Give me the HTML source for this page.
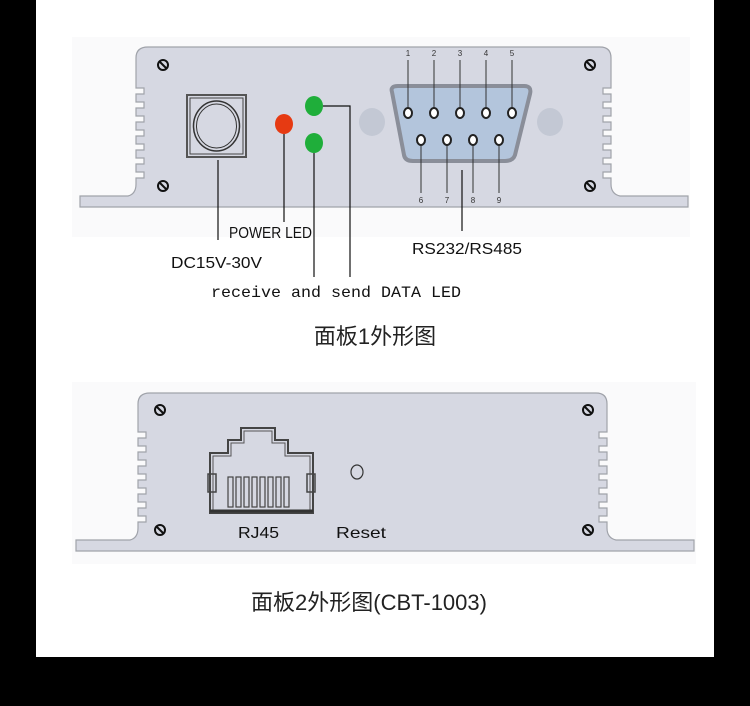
<!DOCTYPE html>
<html><head><meta charset="utf-8"><style>
html,body{margin:0;padding:0;background:#000;width:750px;height:706px;overflow:hidden}
svg{display:block}
</style></head><body>
<svg width="750" height="706" viewBox="0 0 750 706" xmlns="http://www.w3.org/2000/svg">
<rect x="0" y="0" width="750" height="706" fill="#000"/>
<rect x="36" y="0" width="678" height="657" fill="#fff"/>
<rect x="72" y="37" width="618" height="200" fill="#fafafb"/>
<rect x="72" y="382" width="624" height="182" fill="#fafafb"/>

<!-- Panel 1 body -->
<path d="M80,207 L80,196 L128,196 Q136,194 136,184 L136,178 L144,178 L144,172 L136,172 L136,164 L144,164 L144,158 L136,158 L136,150 L144,150 L144,144 L136,144 L136,136 L144,136 L144,130 L136,130 L136,122 L144,122 L144,116 L136,116 L136,108 L144,108 L144,102 L136,102 L136,94 L144,94 L144,88 L136,88 L136,58 Q136,47 148,47 L600,47 Q611,47 611,58 L611,88 L603,88 L603,94 L611,94 L611,102 L603,102 L603,108 L611,108 L611,116 L603,116 L603,122 L611,122 L611,130 L603,130 L603,136 L611,136 L611,144 L603,144 L603,150 L611,150 L611,158 L603,158 L603,164 L611,164 L611,172 L603,172 L603,178 L611,178 L611,184 Q611,194 620,196 L688,196 L688,207 Z" fill="#d6d8e2" stroke="#a0a3aa" stroke-width="1.2"/>
<g stroke="#111" stroke-width="2" fill="none">
<circle cx="163" cy="65" r="5"/><line x1="159" y1="61" x2="167" y2="69"/>
<circle cx="163" cy="186" r="5"/><line x1="159" y1="182" x2="167" y2="190"/>
<circle cx="590" cy="65" r="5"/><line x1="586" y1="61" x2="594" y2="69"/>
<circle cx="590" cy="186" r="5"/><line x1="586" y1="182" x2="594" y2="190"/>
</g>
<!-- power jack -->
<rect x="187" y="95" width="59" height="62" fill="none" stroke="#555" stroke-width="2"/>
<rect x="190" y="98" width="53" height="56" fill="none" stroke="#444" stroke-width="1"/>
<ellipse cx="216.5" cy="126" rx="23" ry="25" fill="none" stroke="#333" stroke-width="1.5"/>
<ellipse cx="216.5" cy="126" rx="20" ry="22" fill="none" stroke="#333" stroke-width="1"/>
<!-- LEDs -->
<ellipse cx="284" cy="124" rx="9" ry="10" fill="#e63a12"/>
<ellipse cx="314" cy="106" rx="9" ry="10" fill="#1fae3a"/>
<ellipse cx="314" cy="143" rx="9" ry="10" fill="#1fae3a"/>
<!-- DB9 -->
<ellipse cx="372" cy="122" rx="13" ry="14" fill="#c3c8d4"/>
<ellipse cx="550" cy="122" rx="13" ry="14" fill="#c3c8d4"/>
<path d="M392,92 Q390,86 398,86 L524,86 Q532,86 530,94 L515,155 Q513,161 505,161 L413,161 Q405,161 404,155 Z" fill="#b3c5dc" stroke="#8a8e99" stroke-width="4"/>
<g fill="#fff" stroke="#222" stroke-width="2">
<ellipse cx="408" cy="113" rx="4" ry="5"/><ellipse cx="434" cy="113" rx="4" ry="5"/><ellipse cx="460" cy="113" rx="4" ry="5"/><ellipse cx="486" cy="113" rx="4" ry="5"/><ellipse cx="512" cy="113" rx="4" ry="5"/>
<ellipse cx="421" cy="140" rx="4" ry="5"/><ellipse cx="447" cy="140" rx="4" ry="5"/><ellipse cx="473" cy="140" rx="4" ry="5"/><ellipse cx="499" cy="140" rx="4" ry="5"/>
</g>
<g stroke="#333" stroke-width="1">
<line x1="408" y1="60" x2="408" y2="107"/><line x1="434" y1="60" x2="434" y2="107"/><line x1="460" y1="60" x2="460" y2="107"/><line x1="486" y1="60" x2="486" y2="107"/><line x1="512" y1="60" x2="512" y2="107"/>
<line x1="421" y1="146" x2="421" y2="193"/><line x1="447" y1="146" x2="447" y2="193"/><line x1="473" y1="146" x2="473" y2="193"/><line x1="499" y1="146" x2="499" y2="193"/>
</g>
<g font-family="Liberation Sans, sans-serif" font-size="8" fill="#333" text-anchor="middle">
<text x="408" y="56">1</text><text x="434" y="56">2</text><text x="460" y="56">3</text><text x="486" y="56">4</text><text x="512" y="56">5</text>
<text x="421" y="203">6</text><text x="447" y="203">7</text><text x="473" y="203">8</text><text x="499" y="203">9</text>
</g>
<!-- leader lines -->
<g stroke="#111" stroke-width="1.2" fill="none">
<line x1="218" y1="160" x2="218" y2="240"/>
<line x1="284" y1="134" x2="284" y2="222"/>
<line x1="314" y1="153" x2="314" y2="277"/>
<polyline points="323,106 350,106 350,277"/>
<line x1="462" y1="170" x2="462" y2="231"/>
</g>
<g font-family="Liberation Sans, sans-serif" font-size="16" fill="#111">
<text x="229" y="238" textLength="83" lengthAdjust="spacingAndGlyphs">POWER LED</text>
<text x="171" y="268" textLength="91" lengthAdjust="spacingAndGlyphs">DC15V-30V</text>
<text x="412" y="254" textLength="110" lengthAdjust="spacingAndGlyphs">RS232/RS485</text>
<text x="211" y="297" font-family="Liberation Mono, monospace" textLength="250" lengthAdjust="spacingAndGlyphs">receive and send DATA LED</text>
</g>
<text x="375" y="344" text-anchor="middle" font-family="Liberation Sans, 'Noto Sans CJK SC', sans-serif" font-size="22" fill="#222">面板1外形图</text>

<!-- Panel 2 body -->
<path d="M76,551 L76,540 L130,540 Q138,538 138,528 L138,522 L146,522 L146,516 L138,516 L138,508 L146,508 L146,502 L138,502 L138,494 L146,494 L146,488 L138,488 L138,480 L146,480 L146,474 L138,474 L138,466 L146,466 L146,460 L138,460 L138,452 L146,452 L146,446 L138,446 L138,438 L146,438 L146,432 L138,432 L138,404 Q138,393 150,393 L596,393 Q607,393 607,404 L607,432 L599,432 L599,438 L607,438 L607,446 L599,446 L599,452 L607,452 L607,460 L599,460 L599,466 L607,466 L607,474 L599,474 L599,480 L607,480 L607,488 L599,488 L599,494 L607,494 L607,502 L599,502 L599,508 L607,508 L607,516 L599,516 L599,522 L607,522 L607,528 Q607,538 616,540 L694,540 L694,551 Z" fill="#d6d8e2" stroke="#a0a3aa" stroke-width="1.2"/>
<g stroke="#111" stroke-width="2" fill="none">
<circle cx="160" cy="410" r="5"/><line x1="156" y1="406" x2="164" y2="414"/>
<circle cx="160" cy="530" r="5"/><line x1="156" y1="526" x2="164" y2="534"/>
<circle cx="588" cy="410" r="5"/><line x1="584" y1="406" x2="592" y2="414"/>
<circle cx="588" cy="530" r="5"/><line x1="584" y1="526" x2="592" y2="534"/>
</g>
<!-- RJ45 -->
<path d="M210,513 L210,453 L228,453 L228,440 L241,440 L241,428 L275,428 L275,440 L288,440 L288,453 L313,453 L313,513 Z" fill="none" stroke="#444" stroke-width="2"/>
<path d="M213,510 L213,456 L231,456 L231,443 L244,443 L244,431 L272,431 L272,443 L285,443 L285,456 L310,456 L310,510 Z" fill="none" stroke="#555" stroke-width="1"/>
<rect x="208" y="474" width="8" height="18" fill="none" stroke="#444" stroke-width="1.5"/>
<rect x="307" y="474" width="8" height="18" fill="none" stroke="#444" stroke-width="1.5"/>
<g stroke="#444" stroke-width="1.2" fill="none">
<rect x="228" y="477" width="5" height="30"/><rect x="236" y="477" width="5" height="30"/><rect x="244" y="477" width="5" height="30"/><rect x="252" y="477" width="5" height="30"/><rect x="260" y="477" width="5" height="30"/><rect x="268" y="477" width="5" height="30"/><rect x="276" y="477" width="5" height="30"/><rect x="284" y="477" width="5" height="30"/>
</g>
<line x1="210" y1="511" x2="313" y2="511" stroke="#333" stroke-width="3"/>
<ellipse cx="357" cy="472" rx="6" ry="7" fill="none" stroke="#333" stroke-width="1.2"/>
<g font-family="Liberation Sans, sans-serif" font-size="16" fill="#111">
<text x="238" y="538" textLength="41" lengthAdjust="spacingAndGlyphs">RJ45</text>
<text x="336" y="538" textLength="50" lengthAdjust="spacingAndGlyphs">Reset</text>
</g>
<text x="369" y="610" text-anchor="middle" font-family="Liberation Sans, 'Noto Sans CJK SC', sans-serif" font-size="22" fill="#222">面板2外形图(CBT-1003)</text>
</svg>
</body></html>
